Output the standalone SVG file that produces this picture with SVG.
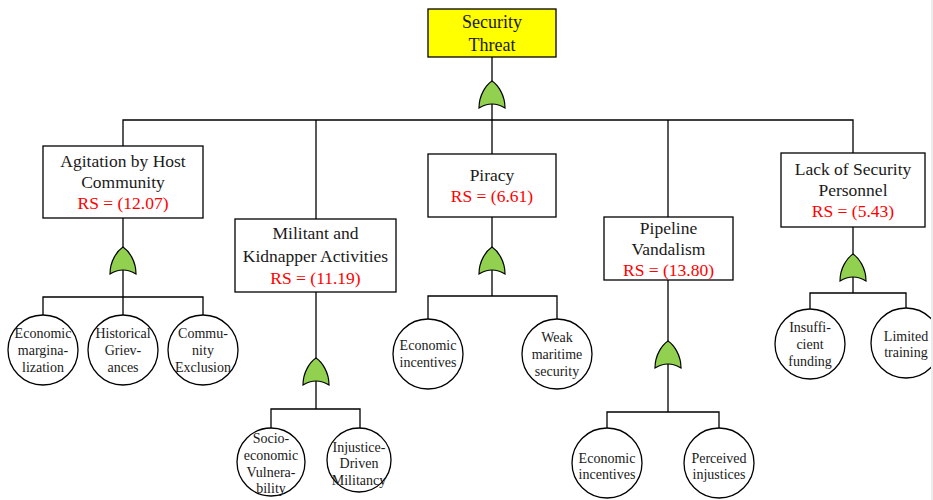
<svg xmlns="http://www.w3.org/2000/svg" xmlns:xlink="http://www.w3.org/1999/xlink" width="933" height="500" viewBox="0 0 933 500">
  <style>
    .box { fill: #ffffff; stroke: #000000; stroke-width: 1.3; }
    .top { fill: #ffff00; stroke: #000000; stroke-width: 1.3; }
    .ev { fill: #ffffff; stroke: #000000; stroke-width: 1.3; }
    .wire { fill: none; stroke: #000000; stroke-width: 1.3; }
    .gate { fill: #92d050; stroke: #000000; stroke-width: 1.2; }
    text { text-anchor: middle; fill: #1a1a1a; }
    .t { font-size: 17.5px; }
    .tt { font-size: 18px; }
    .rs { font-size: 17.5px; fill: #ff0000; }
    .c { font-size: 14px; }
  </style>
  <defs>
    <!-- OR gate, apex at origin -->
    <path id="orgate" class="gate" d="M -13,27 C -13,14 -6,4 0,0 C 6,4 13,14 13,27 Q 0,19 -13,27 Z"/>
  </defs>

  <rect x="0" y="0" width="933" height="500" fill="#ffffff"/>

  <g id="connectors">
    <!-- top event to main bus -->
    <path class="wire" d="M492,57 V120"/>
    <path class="wire" d="M123,146 V120 H853 V153"/>
    <path class="wire" d="M316,120 V219"/>
    <path class="wire" d="M492,120 V154"/>
    <path class="wire" d="M668,120 V217"/>
    <!-- Agitation branch -->
    <path class="wire" d="M123,218 V297"/>
    <path class="wire" d="M43,315 V297 H203 V315 M123,297 V315"/>
    <!-- Militant branch -->
    <path class="wire" d="M316,292 V409"/>
    <path class="wire" d="M271,429 V409 H360 V428"/>
    <!-- Piracy branch -->
    <path class="wire" d="M492,217 V296"/>
    <path class="wire" d="M428,319 V296 H557 V319"/>
    <!-- Pipeline branch -->
    <path class="wire" d="M668,280 V412"/>
    <path class="wire" d="M607,428 V412 H719 V428"/>
    <!-- Lack of personnel branch -->
    <path class="wire" d="M853,227 V293"/>
    <path class="wire" d="M810,309 V293 H906 V308"/>
  </g>

  <g id="gates">
    <use xlink:href="#orgate" transform="translate(492,81)"/>
    <use xlink:href="#orgate" transform="translate(123,247)"/>
    <use xlink:href="#orgate" transform="translate(316,358)"/>
    <use xlink:href="#orgate" transform="translate(492,247)"/>
    <use xlink:href="#orgate" transform="translate(668,341)"/>
    <use xlink:href="#orgate" transform="translate(853,254)"/>
  </g>

  <g font-family="'Liberation Serif', 'Times New Roman', 'DejaVu Serif', serif">
  <g id="security-threat">
    <rect class="top" x="428" y="9" width="128" height="48"/>
    <text class="tt" x="492" y="28">Security</text>
    <text class="tt" x="492" y="51">Threat</text>
  </g>

  <g id="agitation">
    <rect class="box" x="43" y="146" width="160" height="72"/>
    <text class="t" x="123" y="167">Agitation by Host</text>
    <text class="t" x="123" y="188">Community</text>
    <text class="rs" x="123" y="209">RS = (12.07)</text>
  </g>

  <g id="militant">
    <rect class="box" x="235" y="219" width="161" height="73"/>
    <text class="t" x="315.5" y="239">Militant and</text>
    <text class="t" x="315.5" y="262">Kidnapper Activities</text>
    <text class="rs" x="315.5" y="284">RS = (11.19)</text>
  </g>

  <g id="piracy">
    <rect class="box" x="428" y="154" width="128" height="63"/>
    <text class="t" x="492" y="181">Piracy</text>
    <text class="rs" x="492" y="202">RS = (6.61)</text>
  </g>

  <g id="pipeline">
    <rect class="box" x="604" y="217" width="129" height="63"/>
    <text class="t" x="668.5" y="234">Pipeline</text>
    <text class="t" x="668.5" y="255">Vandalism</text>
    <text class="rs" x="668.5" y="276">RS = (13.80)</text>
  </g>

  <g id="lack-personnel">
    <rect class="box" x="781" y="153" width="144" height="74"/>
    <text class="t" x="853" y="175">Lack of Security</text>
    <text class="t" x="853" y="196">Personnel</text>
    <text class="rs" x="853" y="217">RS = (5.43)</text>
  </g>

  <g id="economic-marginalization">
    <circle class="ev" cx="43" cy="350" r="35"/>
    <text class="c" x="43" y="338">Economic</text>
    <text class="c" x="43" y="355">margina-</text>
    <text class="c" x="43" y="372">lization</text>
  </g>
  <g id="historical-grievances">
    <circle class="ev" cx="123" cy="350" r="35"/>
    <text class="c" x="123" y="338">Historical</text>
    <text class="c" x="123" y="355">Griev-</text>
    <text class="c" x="123" y="372">ances</text>
  </g>
  <g id="community-exclusion">
    <circle class="ev" cx="203" cy="350" r="35"/>
    <text class="c" x="203" y="338">Commu-</text>
    <text class="c" x="203" y="355">nity</text>
    <text class="c" x="203" y="372">Exclusion</text>
  </g>

  <g id="socioeconomic-vulnerability">
    <circle class="ev" cx="271" cy="462" r="34"/>
    <text class="c" x="271" y="443">Socio-</text>
    <text class="c" x="271" y="460">economic</text>
    <text class="c" x="271" y="477">Vulnera-</text>
    <text class="c" x="271" y="493">bility</text>
  </g>
  <g id="injustice-militancy">
    <circle class="ev" cx="359" cy="460" r="32"/>
    <text class="c" x="359" y="452">Injustice-</text>
    <text class="c" x="359" y="468">Driven</text>
    <text class="c" x="359" y="485">Militancy</text>
  </g>

  <g id="piracy-economic-incentives">
    <circle class="ev" cx="428" cy="354" r="35"/>
    <text class="c" x="428" y="350">Economic</text>
    <text class="c" x="428" y="367">incentives</text>
  </g>
  <g id="weak-maritime-security">
    <circle class="ev" cx="557" cy="354" r="35"/>
    <text class="c" x="557" y="342">Weak</text>
    <text class="c" x="557" y="359">maritime</text>
    <text class="c" x="557" y="376">security</text>
  </g>

  <g id="pipeline-economic-incentives">
    <circle class="ev" cx="607" cy="463" r="35"/>
    <text class="c" x="607" y="463">Economic</text>
    <text class="c" x="607" y="479">incentives</text>
  </g>
  <g id="perceived-injustices">
    <circle class="ev" cx="719" cy="463" r="35"/>
    <text class="c" x="719" y="463">Perceived</text>
    <text class="c" x="719" y="479">injustices</text>
  </g>

  <g id="insufficient-funding">
    <circle class="ev" cx="810" cy="344" r="35"/>
    <text class="c" x="810" y="332">Insuffi-</text>
    <text class="c" x="810" y="349">cient</text>
    <text class="c" x="810" y="366">funding</text>
  </g>
  <g id="limited-training">
    <circle class="ev" cx="906" cy="343" r="35"/>
    <text class="c" x="906" y="341">Limited</text>
    <text class="c" x="906" y="357">training</text>
  </g>
  </g>

  <!-- page edge strip -->
  <rect x="931" y="0" width="2" height="500" fill="#ececec"/>
</svg>
